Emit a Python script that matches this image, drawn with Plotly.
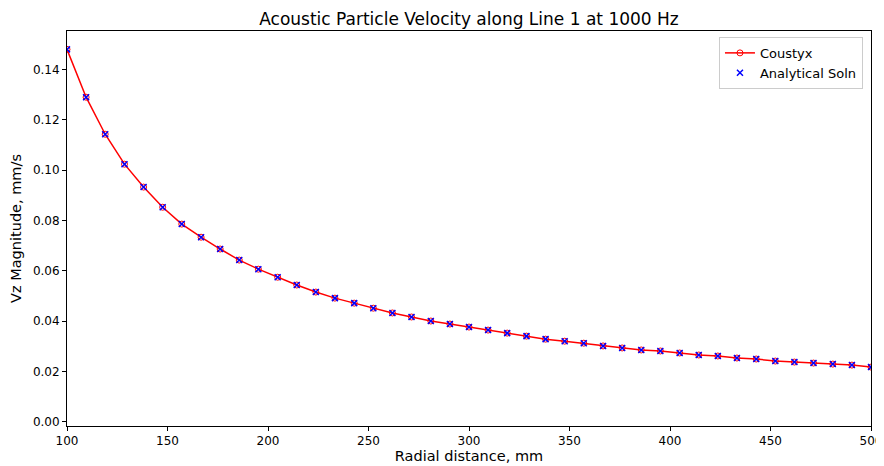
import plotly.graph_objects as go

radial_mm = [100, 109.5, 119.0, 128.6, 138.1, 147.6, 157.1, 166.7, 176.2, 185.7,
             195.2, 204.8, 214.3, 223.8, 233.3, 242.9, 252.4, 261.9, 271.4, 281.0,
             290.5, 300.0, 309.5, 319.0, 328.6, 338.1, 347.6, 357.1, 366.7, 376.2,
             385.7, 395.2, 404.8, 414.3, 423.8, 433.3, 442.9, 452.4, 461.9, 471.4,
             481.0, 490.5, 500.0]

vz_coustyx = [0.1480, 0.1290, 0.1143, 0.1024, 0.0933, 0.0853, 0.0786, 0.0734, 0.0687, 0.0643,
              0.0607, 0.0575, 0.0544, 0.0516, 0.0492, 0.0472, 0.0452, 0.0433, 0.0417, 0.0401,
              0.0389, 0.0377, 0.0365, 0.0353, 0.0341, 0.0329, 0.0321, 0.0313, 0.0302, 0.0294,
              0.0286, 0.0282, 0.0274, 0.0266, 0.0262, 0.0254, 0.0250, 0.0242, 0.0238, 0.0234,
              0.0230, 0.0226, 0.0218]

vz_analytical = list(vz_coustyx)

y_ticks = [0.00, 0.02, 0.04, 0.06, 0.08, 0.10, 0.12, 0.14]
x_ticks = [100, 150, 200, 250, 300, 350, 400, 450, 500]

font_family = "DejaVu Sans"

fig = go.Figure()
fig.add_trace(go.Scatter(
    x=radial_mm, y=vz_coustyx, mode="lines+markers", name="Coustyx",
    line=dict(color="red", width=1.5),
    marker=dict(symbol="circle-open", size=6, color="red", line=dict(width=1)),
))
fig.add_trace(go.Scatter(
    x=radial_mm, y=vz_analytical, mode="markers", name="Analytical Soln",
    marker=dict(symbol="x-thin", size=6, color="blue", line=dict(width=1.5, color="blue")),
))

axis_common = dict(
    showgrid=False, zeroline=False, showline=True, linecolor="black", linewidth=1,
    mirror=True, ticks="outside", ticklen=4, tickwidth=1, tickcolor="black",
    automargin=False,
    tickfont=dict(family=font_family, size=12, color="black"),
)

# page body has an 8px margin, so the figure is 8px smaller than the window
fig.update_layout(
    width=876, height=458,
    paper_bgcolor="white", plot_bgcolor="white",
    margin=dict(l=59, r=13, t=23, b=40),
    title=dict(text="Acoustic Particle Velocity along Line 1 at 1000 Hz",
               x=0.5, xref="paper", xanchor="center", y=0.976, yref="container", yanchor="middle",
               font=dict(family=font_family, size=17, color="black")),
    font=dict(family=font_family, color="black"),
    xaxis=dict(range=[100, 500], tickvals=x_ticks,
               title=dict(text="Radial distance, mm", font=dict(family=font_family, size=14.5), standoff=2),
               **axis_common),
    yaxis=dict(range=[-0.0016, 0.1553], tickvals=y_ticks, tickformat=".2f",
               title=dict(text="Vz Magnitude, mm/s", font=dict(family=font_family, size=14.5), standoff=8),
               **axis_common),
    legend=dict(x=0.990, y=0.985, xanchor="right", yanchor="top",
                bgcolor="rgba(255,255,255,0.8)", bordercolor="#cccccc", borderwidth=1,
                font=dict(family=font_family, size=13, color="black"),
                tracegroupgap=0, itemwidth=30),
    showlegend=True,
)

fig.write_html("out.html")
